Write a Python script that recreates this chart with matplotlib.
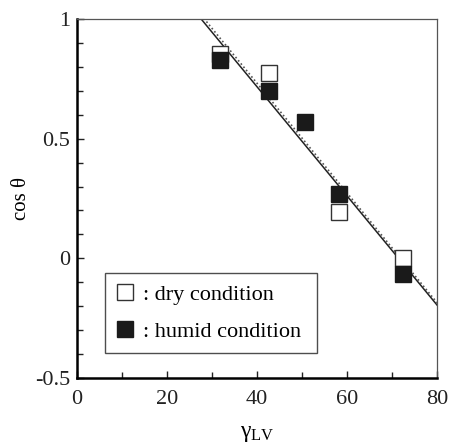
import matplotlib
matplotlib.use("Agg")
import matplotlib.pyplot as plt
import numpy as np
from matplotlib.lines import Line2D
from matplotlib.ticker import MultipleLocator

plt.rcParams['font.family'] = ['Liberation Serif', 'DejaVu Serif']
plt.rcParams['mathtext.fontset'] = 'custom'
plt.rcParams['mathtext.rm'] = 'Liberation Serif'
plt.rcParams['mathtext.it'] = 'Liberation Serif:italic'

# data
dry_x = [31.8, 42.7, 58.3, 72.4]
dry_y = [0.853, 0.773, 0.193, 0.0]
humid_x = [31.8, 42.6, 50.7, 58.3, 72.4]
humid_y = [0.829, 0.699, 0.568, 0.267, -0.067]
# fitted lines: slope, intercept
fit_solid = (-0.0228, 1.629)
fit_dotted = (-0.02292, 1.6486)

fig = plt.figure(figsize=(4.49, 4.44), dpi=100)
ax = fig.add_axes([77/449, 1-378/444, 360/449, 359/444])

xs = np.linspace(0, 80, 200)
ax.plot(xs, fit_dotted[0]*xs + fit_dotted[1], color='#555555', lw=1.2, ls=(0, (1, 1.5)), zorder=2)
ax.plot(xs, fit_solid[0]*xs + fit_solid[1], color='#222222', lw=1.1, zorder=2)

ax.plot(dry_x, dry_y, ls='none', marker='s', ms=11, mfc='white', mec='#333333', mew=1.0, zorder=3)
ax.plot(humid_x, humid_y, ls='none', marker='s', ms=11, mfc='#1a1a1a', mec='#1a1a1a', mew=1.0, zorder=4)

ax.set_xlim(0, 80)
ax.set_ylim(-0.5, 1)
ax.set_xticks([0, 20, 40, 60, 80])
ax.set_xticklabels(['0', '20', '40', '60', '80'])
ax.set_yticks([-0.5, 0, 0.5, 1])
ax.set_yticklabels(['-0.5', '0', '0.5', '1'])
ax.xaxis.set_minor_locator(MultipleLocator(10))
ax.yaxis.set_minor_locator(MultipleLocator(0.1))
ax.tick_params(which='both', direction='in', top=False, right=False, labelsize=16, colors='#222222')
ax.tick_params(which='major', length=5, width=1.0)
ax.tick_params(which='minor', length=4, width=1.0)
ax.tick_params(axis='x', pad=9)
ax.tick_params(axis='y', pad=5)
for s in ['left', 'bottom']:
    ax.spines[s].set_linewidth(1.8)
for s in ['top', 'right']:
    ax.spines[s].set_linewidth(0.9)
    ax.spines[s].set_color('#555555')

ax.set_ylabel(r'cos θ', fontsize=15, labelpad=3)
ax.set_xlabel(r'γ$_{\mathregular{LV}}$', fontsize=17, labelpad=10)

handles = [
    Line2D([], [], ls='none', marker='s', ms=12, mfc='white', mec='#333333', mew=1.0),
    Line2D([], [], ls='none', marker='s', ms=12, mfc='#1a1a1a', mec='#1a1a1a'),
]
leg = ax.legend(handles, [': dry condition', ': humid condition'], loc='lower left',
                bbox_to_anchor=(28/360, (378-353)/359, (317-105)/360, 85/359), mode='expand',
                frameon=True, fancybox=False, edgecolor='#222222', fontsize=16,
                handlelength=0.8, handletextpad=0.4, labelspacing=0.75, borderpad=0.5,
                borderaxespad=0)
leg.get_frame().set_linewidth(1.0)

fig.savefig('out.png', dpi=100)
